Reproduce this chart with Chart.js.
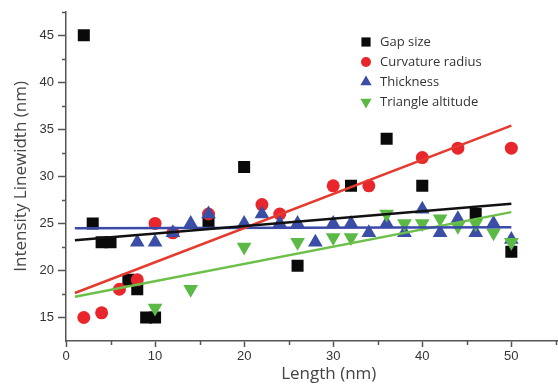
<!DOCTYPE html>
<html>
<head>
<meta charset="utf-8">
<script src="https://cdn.jsdelivr.net/npm/chart.js"></script>
<style>
  body { margin: 0; overflow: hidden; background: #fff; }
</style>
</head>
<body>
<canvas id="chart" width="600" height="385"></canvas>
<script>
const gapX = [2, 3, 4, 5, 7, 8, 9, 10, 16, 20, 26, 32, 36, 40, 46, 50];
const gapY = [45, 25, 23, 23, 19, 18, 15, 15, 25, 31, 20.5, 29, 34, 29, 26, 22];

const radiusX = [2, 4, 6, 8, 10, 12, 16, 22, 24, 30, 34, 40, 44, 50];
const radiusY = [15, 15.5, 18, 19, 25, 24, 26, 27, 26, 29, 29, 32, 33, 33];

const thickX = [8, 10, 12, 14, 16, 20, 22, 24, 26, 28, 30, 32, 34, 36, 38, 40, 42, 44, 46, 48, 50];
const thickY = [23, 23, 24, 25, 26, 25, 26, 25, 25, 23, 25, 25, 24, 25, 24, 26.5, 24, 25.5, 24, 25, 23.3];

const altX = [10, 14, 20, 26, 30, 32, 36, 38, 40, 42, 44, 46, 48, 50];
const altY = [16, 18, 22.5, 23, 23.5, 23.5, 26, 25, 25, 25.5, 24.7, 25, 24, 23];

// linear fit lines, end points
const fitX = [1, 50];
const gapFit = [23.2, 27.1];
const radiusFit = [17.6, 35.4];
const thickFit = [24.5, 24.6];
const altFit = [17.2, 26.2];

const names = ["Gap size", "Curvature radius", "Thickness", "Triangle altitude"];
const colors = ["#0a0a0a", "#e8262b", "#3b4ea6", "#5cb946"];
const lineColors = ["#111111", "#e53a2e", "#3a4aa8", "#6cc04a"];
const styles = ["rect", "circle", "triangle", "triangle"];
const rotations = [0, 0, 0, 180];
const radii = [8.5, 6.5, 8.5, 8.5];

function pts(xs, ys) {
    return xs.map((x, i) => ({ x: x, y: ys[i] }));
}

const series = [pts(gapX, gapY), pts(radiusX, radiusY), pts(thickX, thickY), pts(altX, altY)];
const fits = [gapFit, radiusFit, thickFit, altFit];

const datasets = [];
series.forEach((d, i) => {
    datasets.push({
        label: names[i],
        data: d,
        showLine: false,
        pointStyle: styles[i],
        rotation: rotations[i],
        pointRadius: radii[i],
        pointHoverRadius: radii[i],
        backgroundColor: colors[i],
        borderColor: colors[i],
        borderWidth: 0,
        order: 4 - i
    });
});
fits.forEach((f, i) => {
    datasets.push({
        label: names[i] + " fit",
        data: pts(fitX, f),
        showLine: true,
        pointRadius: 0,
        borderColor: lineColors[i],
        borderWidth: 2.5,
        fill: false,
        order: 0
    });
});

const axisColor = "#555";

// short minor ticks like the original plot
const minorTicks = {
    id: "minorTicks",
    afterDraw(chart) {
        const { ctx, scales: { x, y } } = chart;
        ctx.save();
        ctx.strokeStyle = axisColor;
        ctx.lineWidth = 1.5;
        ctx.beginPath();
        for (let v = 5; v <= 55; v += 10) {
            const px = Math.round(x.getPixelForValue(v)) + 0.5;
            ctx.moveTo(px, y.bottom);
            ctx.lineTo(px, y.bottom + 4);
        }
        for (let v = 17.5; v <= 47.5; v += 5) {
            const py = Math.round(y.getPixelForValue(v)) + 0.5;
            ctx.moveTo(x.left, py);
            ctx.lineTo(x.left - 4, py);
        }
        ctx.stroke();
        ctx.restore();
    }
};

// legend box inside the plot, upper right
const insideLegend = {
    id: "insideLegend",
    afterDraw(chart) {
        const ctx = chart.ctx;
        ctx.save();
        ctx.font = "13px 'Open Sans'";
        ctx.textBaseline = "middle";
        names.forEach((name, i) => {
            const yy = 42 + i * 20;
            ctx.fillStyle = colors[i];
            ctx.strokeStyle = colors[i];
            Chart.helpers.drawPoint(ctx, {
                pointStyle: styles[i],
                rotation: rotations[i],
                radius: i === 1 ? 5 : 6.5,
                borderWidth: 0
            }, 366, yy);
            ctx.fillStyle = "#333";
            ctx.fillText(name, 380, yy);
        });
        ctx.restore();
    }
};

new Chart(document.getElementById("chart").getContext("2d"), {
    type: "scatter",
    data: { datasets: datasets },
    plugins: [minorTicks, insideLegend],
    options: {
        responsive: false,
        animation: false,
        layout: { padding: { top: 8, right: 2, left: 0, bottom: 0 } },
        plugins: {
            legend: { display: false },
            tooltip: { enabled: false }
        },
        scales: {
            x: {
                type: "linear",
                min: 0,
                max: 59,
                afterFit: (s) => { s.height = 44; },
                border: { display: true, color: axisColor, width: 1.5 },
                grid: {
                    drawOnChartArea: false,
                    drawTicks: true,
                    tickLength: 6,
                    tickWidth: 1.5,
                    tickColor: (c) => (c.tick && c.tick.value % 10 === 0 ? axisColor : "rgba(0,0,0,0)")
                },
                ticks: {
                    stepSize: 10,
                    padding: 2,
                    color: "#333",
                    font: { family: "'Liberation Sans'", size: 13 },
                    callback: (v) => (v % 10 === 0 ? v : "")
                },
                title: {
                    display: true,
                    text: "Length (nm)",
                    color: "#444",
                    font: { family: "'Open Sans'", size: 17 },
                    padding: { top: 0, bottom: 1 }
                }
            },
            y: {
                type: "linear",
                min: 12.5,
                max: 47.5,
                afterFit: (s) => { s.width = 66; },
                border: { display: true, color: axisColor, width: 1.5 },
                grid: {
                    drawOnChartArea: false,
                    drawTicks: true,
                    tickLength: 8,
                    tickWidth: 1.5,
                    tickColor: (c) => (c.tick && c.tick.value % 5 === 0 ? axisColor : "rgba(0,0,0,0)")
                },
                ticks: {
                    stepSize: 2.5,
                    padding: 4,
                    color: "#333",
                    font: { family: "'Liberation Sans'", size: 13 },
                    callback: (v) => (v % 5 === 0 ? v : "")
                },
                title: {
                    display: true,
                    text: "Intensity Linewidth (nm)",
                    color: "#444",
                    font: { family: "'Open Sans'", size: 17 },
                    padding: { top: 11, bottom: 0 }
                }
            }
        }
    }
});
</script>
</body>
</html>
